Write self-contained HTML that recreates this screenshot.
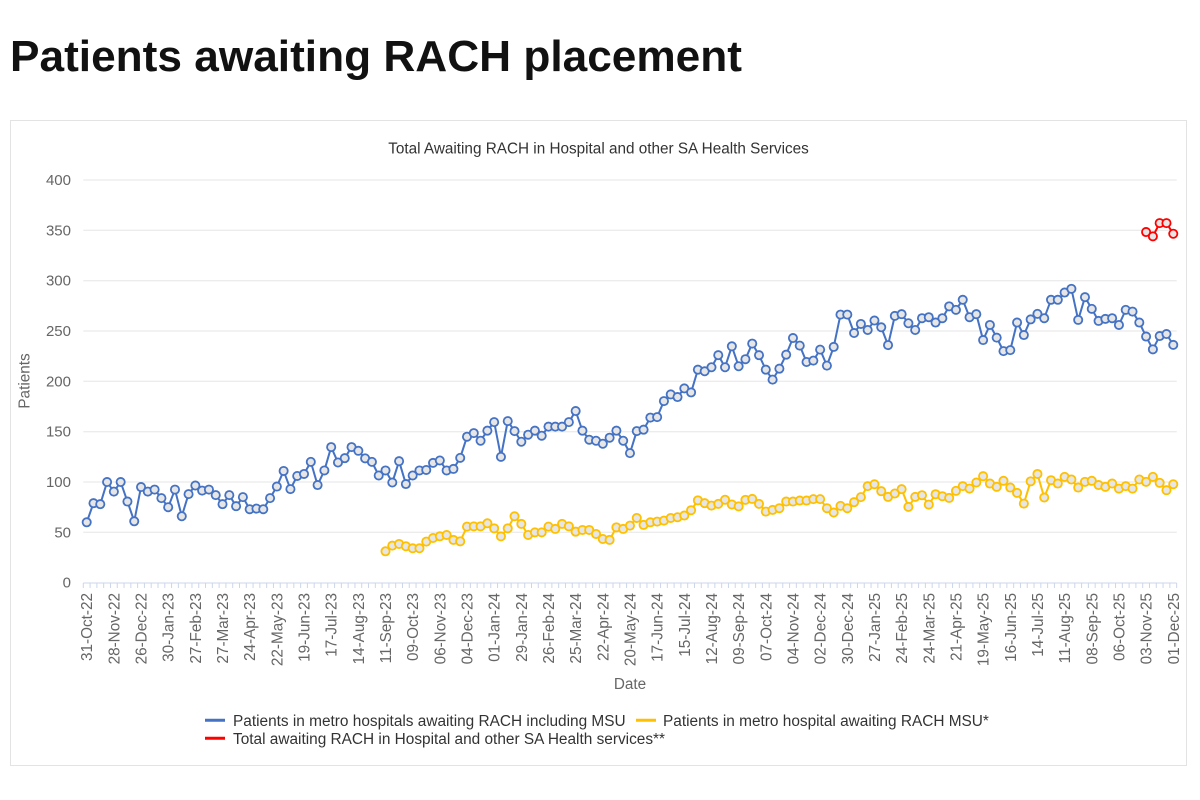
<!DOCTYPE html>
<html>
<head>
<meta charset="utf-8">
<style>
  html, body { margin: 0; padding: 0; background: #ffffff; }
  body { width: 1200px; height: 800px; overflow: hidden; }
  svg { display: block; font-family: "Liberation Sans", Arial, sans-serif; }
  .yl { font-size: 15px; fill: #666666; text-anchor: end; }
  .xl { font-size: 15.3px; fill: #666666; text-anchor: end; }
  .lg { font-size: 15.4px; fill: #333333; }
</style>
</head>
<body>
<svg width="1200" height="800" viewBox="0 0 1200 800" xmlns="http://www.w3.org/2000/svg">
  <defs>
    <marker id="mB" markerUnits="userSpaceOnUse" markerWidth="12" markerHeight="12" refX="0" refY="0" orient="0" style="overflow:visible">
      <ellipse cx="0" cy="0" rx="0.7363" ry="4.966" fill="#4472c4"/>
      <ellipse cx="0" cy="0" rx="0.4712" ry="3.178" fill="#e6e6e6"/>
    </marker>
    <marker id="mY" markerUnits="userSpaceOnUse" markerWidth="12" markerHeight="12" refX="0" refY="0" orient="0" style="overflow:visible">
      <ellipse cx="0" cy="0" rx="0.7363" ry="4.966" fill="#ffc000"/>
      <ellipse cx="0" cy="0" rx="0.4712" ry="3.178" fill="#e6e6e6"/>
    </marker>
    <marker id="mR" markerUnits="userSpaceOnUse" markerWidth="12" markerHeight="12" refX="0" refY="0" orient="0" style="overflow:visible">
      <ellipse cx="0" cy="0" rx="0.7363" ry="4.966" fill="#ff0000"/>
      <ellipse cx="0" cy="0" rx="0.4712" ry="3.178" fill="#e6e6e6"/>
    </marker>
  </defs>

  <!-- Page heading -->
  <text x="10" y="71" font-size="44" font-weight="bold" fill="#111111" textLength="732" lengthAdjust="spacingAndGlyphs">Patients awaiting RACH placement</text>

  <!-- Chart container -->
  <rect x="10.5" y="120.5" width="1176" height="645" fill="#ffffff" stroke="#e3e3e3" stroke-width="1"/>

  <!-- Chart title -->
  <text x="598.5" y="153.5" font-size="15.3" fill="#333333" text-anchor="middle">Total Awaiting RACH in Hospital and other SA Health Services</text>

  <!-- Gridlines -->
  <g stroke="#e6e6e6" stroke-width="1">
    <line x1="83.3" y1="180.0" x2="1176.7" y2="180.0"/>
    <line x1="83.3" y1="230.3" x2="1176.7" y2="230.3"/>
    <line x1="83.3" y1="280.7" x2="1176.7" y2="280.7"/>
    <line x1="83.3" y1="331.0" x2="1176.7" y2="331.0"/>
    <line x1="83.3" y1="381.3" x2="1176.7" y2="381.3"/>
    <line x1="83.3" y1="431.7" x2="1176.7" y2="431.7"/>
    <line x1="83.3" y1="482.0" x2="1176.7" y2="482.0"/>
    <line x1="83.3" y1="532.3" x2="1176.7" y2="532.3"/>
  </g>

  <!-- Y labels -->
  <text class="yl" x="71" y="185.0">400</text>
  <text class="yl" x="71" y="235.3">350</text>
  <text class="yl" x="71" y="285.7">300</text>
  <text class="yl" x="71" y="336.0">250</text>
  <text class="yl" x="71" y="386.3">200</text>
  <text class="yl" x="71" y="436.7">150</text>
  <text class="yl" x="71" y="487.0">100</text>
  <text class="yl" x="71" y="537.3">50</text>
  <text class="yl" x="71" y="587.7">0</text>

  <!-- Y axis title -->
  <text transform="translate(29.5 381) rotate(-90)" font-size="15.3" fill="#666666" text-anchor="middle">Patients</text>

  <!-- X axis line and ticks -->
  <line x1="83.3" y1="583" x2="1176.7" y2="583" stroke="#ccd6eb" stroke-width="1"/>
  <line x1="82.8" y1="585.5" x2="1177.5" y2="585.5" stroke="#ccd6eb" stroke-width="5" stroke-dasharray="1 5.791"/>

  <!-- X labels -->
  <g class="xl">
    <text class="xl" transform="translate(92.2 593) rotate(-90)">31-Oct-22</text>
    <text class="xl" transform="translate(119.4 593) rotate(-90)">28-Nov-22</text>
    <text class="xl" transform="translate(146.5 593) rotate(-90)">26-Dec-22</text>
    <text class="xl" transform="translate(173.7 593) rotate(-90)">30-Jan-23</text>
    <text class="xl" transform="translate(200.9 593) rotate(-90)">27-Feb-23</text>
    <text class="xl" transform="translate(228.0 593) rotate(-90)">27-Mar-23</text>
    <text class="xl" transform="translate(255.2 593) rotate(-90)">24-Apr-23</text>
    <text class="xl" transform="translate(282.3 593) rotate(-90)">22-May-23</text>
    <text class="xl" transform="translate(309.5 593) rotate(-90)">19-Jun-23</text>
    <text class="xl" transform="translate(336.7 593) rotate(-90)">17-Jul-23</text>
    <text class="xl" transform="translate(363.8 593) rotate(-90)">14-Aug-23</text>
    <text class="xl" transform="translate(391.0 593) rotate(-90)">11-Sep-23</text>
    <text class="xl" transform="translate(418.2 593) rotate(-90)">09-Oct-23</text>
    <text class="xl" transform="translate(445.3 593) rotate(-90)">06-Nov-23</text>
    <text class="xl" transform="translate(472.5 593) rotate(-90)">04-Dec-23</text>
    <text class="xl" transform="translate(499.7 593) rotate(-90)">01-Jan-24</text>
    <text class="xl" transform="translate(526.8 593) rotate(-90)">29-Jan-24</text>
    <text class="xl" transform="translate(554.0 593) rotate(-90)">26-Feb-24</text>
    <text class="xl" transform="translate(581.2 593) rotate(-90)">25-Mar-24</text>
    <text class="xl" transform="translate(608.3 593) rotate(-90)">22-Apr-24</text>
    <text class="xl" transform="translate(635.5 593) rotate(-90)">20-May-24</text>
    <text class="xl" transform="translate(662.6 593) rotate(-90)">17-Jun-24</text>
    <text class="xl" transform="translate(689.8 593) rotate(-90)">15-Jul-24</text>
    <text class="xl" transform="translate(717.0 593) rotate(-90)">12-Aug-24</text>
    <text class="xl" transform="translate(744.1 593) rotate(-90)">09-Sep-24</text>
    <text class="xl" transform="translate(771.3 593) rotate(-90)">07-Oct-24</text>
    <text class="xl" transform="translate(798.5 593) rotate(-90)">04-Nov-24</text>
    <text class="xl" transform="translate(825.6 593) rotate(-90)">02-Dec-24</text>
    <text class="xl" transform="translate(852.8 593) rotate(-90)">30-Dec-24</text>
    <text class="xl" transform="translate(880.0 593) rotate(-90)">27-Jan-25</text>
    <text class="xl" transform="translate(907.1 593) rotate(-90)">24-Feb-25</text>
    <text class="xl" transform="translate(934.3 593) rotate(-90)">24-Mar-25</text>
    <text class="xl" transform="translate(961.5 593) rotate(-90)">21-Apr-25</text>
    <text class="xl" transform="translate(988.6 593) rotate(-90)">19-May-25</text>
    <text class="xl" transform="translate(1015.8 593) rotate(-90)">16-Jun-25</text>
    <text class="xl" transform="translate(1042.9 593) rotate(-90)">14-Jul-25</text>
    <text class="xl" transform="translate(1070.1 593) rotate(-90)">11-Aug-25</text>
    <text class="xl" transform="translate(1097.3 593) rotate(-90)">08-Sep-25</text>
    <text class="xl" transform="translate(1124.4 593) rotate(-90)">06-Oct-25</text>
    <text class="xl" transform="translate(1151.6 593) rotate(-90)">03-Nov-25</text>
    <text class="xl" transform="translate(1178.8 593) rotate(-90)">01-Dec-25</text>
  </g>

  <!-- X axis title -->
  <text x="630" y="689" font-size="15.3" fill="#666666" text-anchor="middle">Date</text>

  <!-- Series: blue -->
  <polyline transform="matrix(6.791 0 0 -1.0068 86.7 582.7)" fill="none" stroke="#4472c4" stroke-width="2" stroke-linejoin="round" vector-effect="non-scaling-stroke"
    marker-start="url(#mB)" marker-mid="url(#mB)" marker-end="url(#mB)"
    points="0,60 1,79 2,78 3,100 4,90.5 5,100 6,80.6 7,61 8,95 9,90.5 10,92.5 11,84 12,75 13,92.5 14,66 15,88 16,96.5 17,91.5 18,92.5 19,87 20,78 21,87 22,76 23,85 24,73 25,73.6 26,73 27,84 28,95.5 29,111 30,93 31,106 32,108 33,120 34,97 35,111.5 36,134.7 37,119.4 38,123.7 39,134.7 40,131 41,123.5 42,120 43,106.5 44,111.5 45,99.5 46,120.7 47,98 48,106.5 49,111.5 50,112 51,119 52,121.4 53,111.5 54,113 55,124 56,145 57,148.6 58,141 59,151 60,159.5 61,125 62,160.5 63,150.6 64,140 65,147 66,151 67,146 68,155 69,155 70,155 71,159.5 72,170.5 73,151 74,142 75,141 76,138 77,144 78,151 79,141 80,128.7 81,150.6 82,152 83,164 84,164.5 85,180.4 86,187 87,184.4 88,193 89,189 90,211.6 91,210 92,214 93,226 94,214 95,234.8 96,215 97,222 98,237.5 99,226 100,211.6 101,201.7 102,212.6 103,226.5 104,243 105,235.5 106,219.2 107,220.6 108,231.5 109,215.6 110,234.2 111,266.3 112,266.3 113,248 114,257 115,251 116,260.4 117,253.7 118,236 119,265 120,266.7 121,257.7 122,251 123,262.7 124,263.7 125,258.4 126,262.7 127,274.5 128,271 129,281 130,263.7 131,266.7 132,241 133,256 134,243.4 135,230 136,231 137,258.4 138,246 139,261.5 140,267 141,262.7 142,281 143,281 144,288.2 145,291.9 146,261 147,283.6 148,272 149,260 150,262 151,262.7 152,256 153,271 154,269.3 155,258.4 156,244.5 157,231.8 158,245 159,247 160,236.2"/>

  <!-- Series: yellow -->
  <polyline transform="matrix(6.791 0 0 -1.0068 86.7 582.7)" fill="none" stroke="#ffc000" stroke-width="2" stroke-linejoin="round" vector-effect="non-scaling-stroke"
    marker-start="url(#mY)" marker-mid="url(#mY)" marker-end="url(#mY)"
    points="44,31.2 45,36.8 46,38.5 47,36.2 48,34.2 49,34.2 50,40.8 51,44.4 52,46.1 53,47.4 54,42.5 55,41.1 56,55.7 57,56 58,56 59,59 60,54 61,46 62,54 63,66 64,58.4 65,47.4 66,50 67,50 68,55.7 69,53.4 70,58.4 71,56 72,50.7 73,52.4 74,52.4 75,48.4 76,43.4 77,42.5 78,55 79,53.4 80,56.7 81,64.3 82,57.4 83,60 84,60.7 85,61.7 86,64.3 87,65 88,66.7 89,72 90,81.8 91,79 92,76.6 93,78.3 94,82.4 95,77.7 96,75.8 97,82.3 98,83.2 99,78.3 100,70.6 101,72.3 102,74 103,80.6 104,80.6 105,81.6 106,81.6 107,83 108,83 109,74 110,69.7 111,76.3 112,74 113,80 114,85 115,95.9 116,97.8 117,90.9 118,85.2 119,88.6 120,92.9 121,75.3 122,85.2 123,86.9 124,77.6 125,87.9 126,85.9 127,84.2 128,91.2 129,95.9 130,93.5 131,99.5 132,105.8 133,98.5 134,95.2 135,101.2 136,94.5 137,89.2 138,78.6 139,100.7 140,108 141,84.6 142,101.8 143,98.5 144,105.1 145,102.5 146,94.5 147,100.2 148,101.2 149,97 150,95.2 151,98.5 152,93.5 153,95.9 154,93.5 155,102.5 156,100.2 157,105.1 158,99.2 159,91.9 160,97.8"/>

  <!-- Series: red -->
  <polyline transform="matrix(6.791 0 0 -1.0068 86.7 582.7)" fill="none" stroke="#ff0000" stroke-width="2" stroke-linejoin="round" vector-effect="non-scaling-stroke"
    marker-start="url(#mR)" marker-mid="url(#mR)" marker-end="url(#mR)"
    points="156,348.3 157,344 158,357.2 159,357.2 160,346.6"/>

  <!-- Legend -->
  <line x1="205" y1="720.3" x2="225" y2="720.3" stroke="#4472c4" stroke-width="3"/>
  <text class="lg" x="233" y="726">Patients in metro hospitals awaiting RACH including MSU</text>
  <line x1="636" y1="720.3" x2="656" y2="720.3" stroke="#ffc000" stroke-width="3"/>
  <text class="lg" x="663" y="726">Patients in metro hospital awaiting RACH MSU*</text>
  <line x1="205" y1="738.3" x2="225" y2="738.3" stroke="#ff0000" stroke-width="3"/>
  <text class="lg" x="233" y="744">Total awaiting RACH in Hospital and other SA Health services**</text>
</svg>
</body>
</html>
